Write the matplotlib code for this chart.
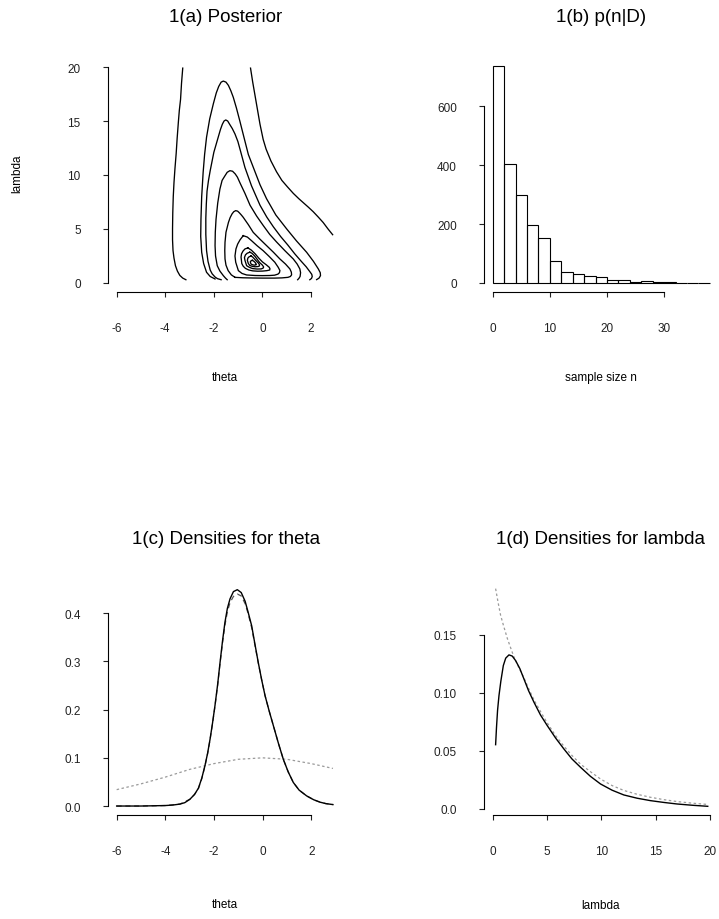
import matplotlib
matplotlib.use("Agg")
import matplotlib.pyplot as plt

plt.rcParams['font.family'] = ['Liberation Sans', 'DejaVu Sans']
plt.rcParams['axes.unicode_minus'] = False

W, H = 719, 920

# ---- 1(a) posterior contours (theta, lambda) ----
c1_left_x = [-3.28, -3.33, -3.37, -3.42, -3.46, -3.51, -3.55, -3.60, -3.64, -3.67, -3.69, -3.70,
             -3.70, -3.68, -3.64, -3.58, -3.50, -3.40, -3.28, -3.15]
c1_left_y = [19.9, 18.5, 17.0, 16.0, 14.9, 13.4, 12.0, 10.6, 9.3, 8.0, 6.5, 5.0,
             4.0, 3.0, 2.3, 1.6, 1.1, 0.7, 0.45, 0.3]
c1_right_x = [-0.49, -0.40, -0.30, -0.20, -0.10, 0.03, 0.15, 0.35, 0.58, 0.80, 1.03, 1.27,
              1.50, 1.70, 1.90, 2.09, 2.30, 2.50, 2.70, 2.89]
c1_right_y = [19.9, 18.6, 17.3, 16.0, 14.7, 13.3, 12.4, 11.3, 10.3, 9.5, 8.9, 8.3,
              7.8, 7.4, 7.0, 6.6, 6.1, 5.6, 5.0, 4.47]
c2_x = [-1.95, -2.15, -2.30, -2.42, -2.50, -2.54, -2.53, -2.50, -2.44, -2.38, -2.30, -2.17, -2.02,
        -1.90, -1.80, -1.70, -1.61, -1.50, -1.40, -1.30, -1.20, -1.07, -0.93, -0.75, -0.58,
        -0.34, -0.10, 0.17, 0.55, 1.0, 1.40, 1.82, 2.10, 2.30, 2.38, 2.39, 2.33, 2.23]
c2_y = [0.37, 0.6, 0.99, 1.8, 2.84, 4.3, 5.9, 8.0, 10.25, 11.9, 13.5, 15.2, 16.6,
        17.6, 18.2, 18.6, 18.7, 18.6, 18.3, 17.8, 17.2, 16.2, 15.0, 13.4, 11.9,
        10.5, 9.1, 7.8, 6.3, 5.0, 3.9, 2.84, 2.0, 1.3, 0.95, 0.68, 0.45, 0.31]
c3_x = [-1.70, -1.85, -1.95, -2.07, -2.15, -2.24, -2.30, -2.33, -2.33, -2.31, -2.28, -2.22, -2.15,
        -2.00, -1.82, -1.73, -1.65, -1.58, -1.51, -1.43, -1.35, -1.24, -1.13, -1.01, -0.90,
        -0.72, -0.45, -0.10, 0.18, 0.45, 0.75, 1.05, 1.33, 1.60, 1.80, 1.95, 2.03, 2.05, 2.02, 1.95]
c3_y = [0.3, 0.4, 0.55, 0.85, 1.2, 2.0, 3.0, 4.5, 6.0, 7.3, 8.5, 9.5, 10.4,
        12.1, 13.5, 14.2, 14.7, 15.0, 15.1, 15.0, 14.7, 14.3, 13.8, 13.1, 12.2,
        10.7, 9.0, 7.2, 6.1, 5.2, 4.3, 3.5, 2.7, 2.0, 1.5, 1.05, 0.8, 0.6, 0.42, 0.3]
c4_x = [-1.45, -1.52, -1.61, -1.75, -1.86, -1.93, -1.95, -1.94, -1.91, -1.84, -1.75, -1.66, -1.55,
        -1.45, -1.34, -1.23, -1.12, -1.03, -0.93, -0.72, -0.51, -0.24, 0.04, 0.30, 0.58,
        0.92, 1.27, 1.43, 1.54, 1.57, 1.55, 1.50, 1.45]
c4_y = [0.3, 0.45, 0.68, 1.1, 1.6, 2.5, 3.46, 4.7, 5.9, 7.4, 8.7, 9.5, 9.9,
        10.25, 10.4, 10.35, 10.1, 9.8, 9.3, 8.3, 7.2, 6.2, 5.3, 4.5, 3.8,
        3.0, 2.22, 1.75, 1.3, 0.95, 0.6, 0.42, 0.3]
c5_x = [-1.13, -1.28, -1.41, -1.50, -1.54, -1.55, -1.54, -1.50, -1.40, -1.33, -1.25, -1.18, -1.10,
        -1.02, -0.95, -0.87, -0.79, -0.58, -0.38, -0.10, 0.17, 0.45, 0.72, 0.95, 1.13, 1.19,
        1.20, 1.15, 1.05, 0.80, 0.5, 0.0, -0.4, -0.80, -1.13]
c5_y = [0.52, 0.75, 1.14, 1.65, 2.22, 3.0, 3.77, 4.7, 5.6, 6.05, 6.4, 6.6, 6.7,
        6.65, 6.5, 6.3, 6.08, 5.4, 4.69, 4.05, 3.46, 2.85, 2.22, 1.75, 1.3, 1.0,
        0.75, 0.6, 0.52, 0.47, 0.45, 0.45, 0.46, 0.48, 0.52]
c6_x = [-0.79, -0.92, -1.02, -1.09, -1.13, -1.10, -0.99, -0.84, -0.65, -0.30, 0.0, 0.30, 0.50,
        0.64, 0.70, 0.72, 0.65, 0.51, 0.28, 0.03, -0.22, -0.45, -0.62, -0.79]
c6_y = [4.38, 4.0, 3.6, 3.15, 2.5, 1.92, 1.14, 0.88, 0.74, 0.69, 0.68, 0.69, 0.72,
        0.82, 0.95, 1.15, 1.45, 1.92, 2.45, 2.99, 3.45, 3.92, 4.25, 4.38]
c7_x = [-0.60, -0.72, -0.80, -0.86, -0.88, -0.85, -0.79, -0.70, -0.56, -0.40, -0.20, 0.0, 0.18,
        0.30, 0.31, 0.28, 0.16, 0.0, -0.15, -0.30, -0.46, -0.60]
c7_y = [3.25, 3.15, 2.95, 2.7, 2.4, 1.8, 1.55, 1.35, 1.2, 1.12, 1.09, 1.10, 1.14,
        1.20, 1.32, 1.45, 1.68, 1.95, 2.3, 2.7, 3.05, 3.25]
c8_x = [-0.52, -0.63, -0.70, -0.74, -0.72, -0.65, -0.54, -0.40, -0.22, -0.05, 0.03, 0.05, 0.0,
        -0.12, -0.22, -0.32, -0.43, -0.52]
c8_y = [2.85, 2.75, 2.6, 2.35, 2.1, 1.6, 1.45, 1.33, 1.29, 1.30, 1.38, 1.48, 1.65,
        1.9, 2.2, 2.5, 2.75, 2.85]
c9_x = [-0.47, -0.55, -0.60, -0.62, -0.58, -0.52, -0.42, -0.30, -0.18, -0.12, -0.13, -0.17,
        -0.25, -0.32, -0.40, -0.47]
c9_y = [2.5, 2.42, 2.3, 2.1, 1.8, 1.62, 1.54, 1.50, 1.52, 1.58, 1.72, 1.85,
        2.03, 2.2, 2.4, 2.5]
c10_x = [-0.42, -0.48, -0.50, -0.47, -0.40, -0.33, -0.26, -0.25, -0.30, -0.36, -0.42]
c10_y = [2.1, 2.03, 1.95, 1.75, 1.68, 1.65, 1.68, 1.72, 1.9, 2.02, 2.1]

contours = [(c1_left_x, c1_left_y), (c1_right_x, c1_right_y), (c2_x, c2_y), (c3_x, c3_y),
            (c4_x, c4_y), (c5_x, c5_y), (c6_x, c6_y), (c7_x, c7_y), (c8_x, c8_y),
            (c9_x, c9_y), (c10_x, c10_y)]

# ---- 1(b) histogram of sample size n ----
n_bin_left = [0, 2, 4, 6, 8, 10, 12, 14, 16, 18, 20, 22, 24, 26, 28, 30, 32, 34, 36]
n_counts = [737, 402, 298, 197, 154, 75, 36, 29, 23, 19, 9, 10, 4.5, 5.6, 2, 2, 1, 1, 1]

# ---- 1(c) densities for theta ----
theta_post_x = [-6.0, -5.0, -4.0, -3.7, -3.4, -3.2, -2.99, -2.8, -2.64, -2.5, -2.37, -2.26, -2.16,
                -2.06, -1.96, -1.85, -1.75, -1.65, -1.55, -1.45, -1.34, -1.2, -1.04, -0.88, -0.72,
                -0.6, -0.45, -0.32, -0.18, -0.04, 0.10, 0.27, 0.44, 0.65, 0.85, 1.05, 1.26, 1.5,
                1.81, 2.1, 2.36, 2.6, 2.89]
theta_post_y = [0.0, 0.0, 0.001, 0.002, 0.004, 0.007, 0.014, 0.024, 0.037, 0.058, 0.084, 0.110, 0.139,
                0.172, 0.208, 0.252, 0.298, 0.342, 0.381, 0.410, 0.430, 0.445, 0.449, 0.443, 0.425,
                0.403, 0.374, 0.337, 0.298, 0.262, 0.229, 0.197, 0.167, 0.130, 0.097, 0.071, 0.049, 0.033,
                0.021, 0.013, 0.008, 0.005, 0.003]
theta_approx_x = [-6.0, -5.0, -4.0, -3.4, -2.99, -2.8, -2.64, -2.5, -2.37, -2.26, -2.16, -2.06, -1.96,
                  -1.85, -1.75, -1.65, -1.55, -1.45, -1.34, -1.2, -1.04, -0.88, -0.72, -0.6, -0.45,
                  -0.32, -0.18, -0.04, 0.10, 0.27, 0.44, 0.65, 0.85, 1.05, 1.26, 1.5, 1.81, 2.1, 2.36,
                  2.6, 2.89]
theta_approx_y = [0.0, 0.0, 0.001, 0.004, 0.014, 0.024, 0.036, 0.057, 0.083, 0.109, 0.138, 0.171, 0.207,
                  0.250, 0.296, 0.338, 0.375, 0.403, 0.422, 0.435, 0.440, 0.436, 0.420,
                  0.400, 0.370, 0.335, 0.297, 0.262, 0.229, 0.197, 0.167, 0.130, 0.097, 0.071, 0.049,
                  0.033, 0.021, 0.013, 0.008, 0.005, 0.003]
theta_prior_x = [-6.0, -5.0, -4.0, -3.0, -2.0, -1.0, 0.0, 1.0, 2.0, 2.89]
theta_prior_y = [0.034, 0.046, 0.060, 0.076, 0.088, 0.097, 0.100, 0.097, 0.088, 0.078]

# ---- 1(d) densities for lambda ----
lam_post_x = [0.27, 0.35, 0.45, 0.58, 0.75, 0.98, 1.2, 1.5, 1.8, 2.11, 2.5, 2.88, 3.3, 3.8, 4.4,
              5.03, 5.8, 6.56, 7.3, 8.09, 9.0, 9.93, 11.0, 12.08, 13.3, 14.53, 15.8, 16.99,
              18.4, 19.81]
lam_post_y = [0.0553, 0.070, 0.085, 0.0977, 0.110, 0.1236, 0.130, 0.1328, 0.1318, 0.1279, 0.121,
              0.112, 0.102, 0.092, 0.081, 0.0717, 0.061, 0.0516, 0.043, 0.0358, 0.028, 0.0214,
              0.016, 0.0119, 0.0091, 0.0070, 0.0054, 0.0041, 0.0030, 0.0021]
lam_prior_x = [0.27, 0.5, 0.73, 1.0, 1.35, 1.65, 1.96, 2.4, 2.88, 3.3, 3.8, 4.4, 5.03, 5.8, 6.56,
               7.3, 8.09, 9.0, 9.93, 11.0, 12.08, 13.3, 14.53, 15.8, 16.99, 18.4, 19.81]
lam_prior_y = [0.190, 0.178, 0.167, 0.158, 0.147, 0.139, 0.131, 0.122, 0.113, 0.104, 0.094, 0.084,
               0.074, 0.063, 0.054, 0.046, 0.0385, 0.032, 0.0257, 0.020, 0.0158, 0.0125, 0.0099,
               0.0078, 0.0062, 0.0048, 0.0037]


def make_axes(fig, left, top, right, bottom):
    return fig.add_axes([left / W, 1 - bottom / H, (right - left) / W, (bottom - top) / H])


def r_style(ax, xticks, yticks, xlabels=None, ylabels=None):
    for s in ['top', 'right']:
        ax.spines[s].set_visible(False)
    ax.spines['left'].set_bounds(yticks[0], yticks[-1])
    ax.spines['bottom'].set_bounds(xticks[0], xticks[-1])
    for s in ['left', 'bottom']:
        ax.spines[s].set_linewidth(0.8)
    ax.set_xticks(xticks)
    ax.set_yticks(yticks)
    if xlabels is not None:
        ax.set_xticklabels(xlabels)
    if ylabels is not None:
        ax.set_yticklabels(ylabels)
    ax.tick_params(direction='out', length=3.6, width=0.8, labelsize=8.5, colors='#222222')
    ax.tick_params(axis='x', pad=18)
    ax.tick_params(axis='y', pad=16)


def title(fig, x, y, s):
    fig.text(x / W, 1 - y / H, s, ha='center', va='center', fontsize=13.5)


def label(fig, x, y, s, rot=0):
    fig.text(x / W, 1 - y / H, s, ha='center', va='center', fontsize=8.5, rotation=rot)


fig = plt.figure(figsize=(W / 100, H / 100), dpi=100)

# 1(a)
ax = make_axes(fig, 108, 59.4, 341.3, 292.6)
for cx, cy in contours:
    ax.plot(cx, cy, color='black', lw=0.95)
ax.set_xlim(-6.356, 3.246)
ax.set_ylim(-0.8, 20.8)
r_style(ax, [-6, -4, -2, 0, 2], [0, 5, 10, 15, 20])
title(fig, 226, 17, "1(a) Posterior")
label(fig, 225, 378, "theta")
label(fig, 17, 174, "lambda", rot=90)

# 1(b)
ax = make_axes(fig, 484, 57.9, 718.5, 292.7)
ax.bar(n_bin_left, n_counts, width=2, align='edge', fill=False, edgecolor='black', linewidth=0.8)
ax.set_xlim(-1.52, 39.52)
ax.set_ylim(-29.5, 766.5)
r_style(ax, [0, 10, 20, 30], [0, 200, 400, 600])
title(fig, 601, 17, "1(b) p(n|D)")
label(fig, 601, 378, "sample size n")

# 1(c)
ax = make_axes(fig, 108, 582, 341.6, 815.7)
ax.plot(theta_prior_x, theta_prior_y, color='#9a9a9a', lw=0.9, ls=(0, (2, 2)))
ax.plot(theta_approx_x, theta_approx_y, color='#555555', lw=0.9, ls=(0, (4, 3)))
ax.plot(theta_post_x, theta_post_y, color='black', lw=1.0)
ax.set_xlim(-6.356, 3.246)
ax.set_ylim(-0.018, 0.467)
r_style(ax, [-6, -4, -2, 0, 2], [0.0, 0.1, 0.2, 0.3, 0.4], ylabels=['0.0', '0.1', '0.2', '0.3', '0.4'])
title(fig, 226, 539, "1(c) Densities for theta")
label(fig, 225, 905, "theta")

# 1(d)
ax = make_axes(fig, 484, 580.6, 718.5, 816)
ax.plot(lam_prior_x, lam_prior_y, color='#9a9a9a', lw=0.9, ls=(0, (2, 2)))
ax.plot(lam_post_x, lam_post_y, color='black', lw=1.0)
ax.set_xlim(-0.8, 20.8)
ax.set_ylim(-0.0054, 0.1978)
r_style(ax, [0, 5, 10, 15, 20], [0.0, 0.05, 0.10, 0.15], ylabels=['0.0', '0.05', '0.10', '0.15'])
title(fig, 601, 539, "1(d) Densities for lambda")
label(fig, 601, 906, "lambda")

fig.savefig("out.png", dpi=100)
